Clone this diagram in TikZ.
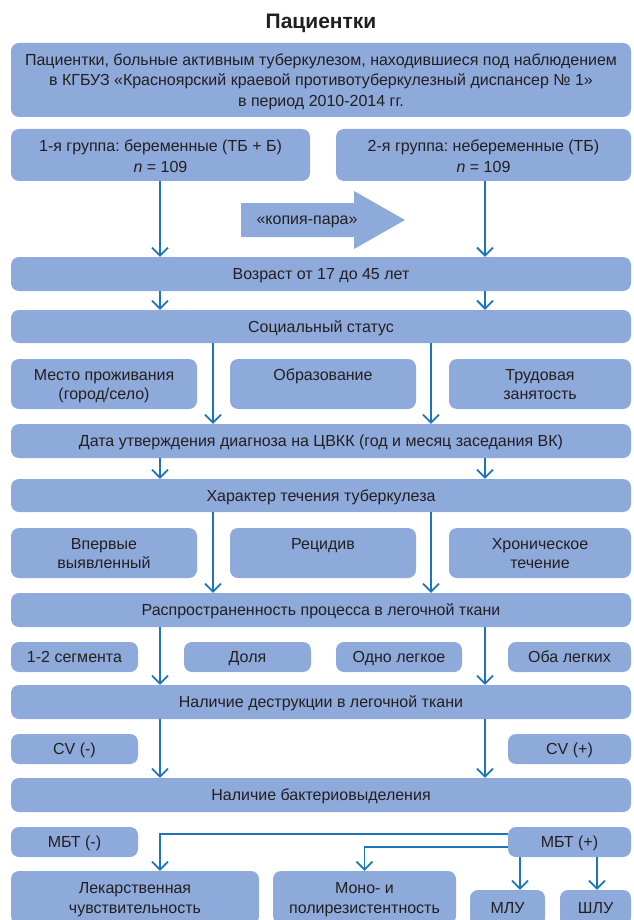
\documentclass[tikz,border=0pt]{standalone}
\usepackage{fontspec}
\setmainfont{Liberation Sans}
\usetikzlibrary{arrows.meta}
\definecolor{boxblue}{HTML}{8EAADB}
\definecolor{arrowblue}{HTML}{1C75BC}
\definecolor{txt}{HTML}{231F20}
\newcommand{\boxstrut}{\rule[-4pt]{0pt}{19.5pt}}
\frenchspacing
\begin{document}
\begin{tikzpicture}[x=1pt,y=-1pt,
  box/.style={rectangle,rounded corners=8pt,fill=boxblue,text=txt,align=flush center,inner sep=0pt,
    font=\fontsize{16}{19.5}\selectfont,execute at begin node=\boxstrut,execute at end node=\boxstrut},
  twoline/.style={text width=#1},
  twoline/.default=180pt,
  wide/.style={box,minimum width=620pt,minimum height=34pt},
  flow/.style={draw=arrowblue,line width=1.8pt,-{Straight Barb[length=8pt,width=16pt]}}]
\useasboundingbox (0,0) rectangle (633,920);
%Title
\node at (321,23) [text=txt,font=\fontsize{21}{24}\selectfont\bfseries] (Title) {Пациентки};
%Boxes
\node at (321,80) [box,twoline=610pt,font=\fontsize{16}{20.5}\selectfont,minimum width=620pt,minimum height=74pt] (Top) {Пациентки, больные активным туберкулезом, находившиеся под наблюдением\\в КГБУЗ «Красноярский краевой противотуберкулезный диспансер №~1»\\в период 2010-2014 гг.};
\node at (160.5,155) [box,twoline=290pt,font=\fontsize{16}{18}\selectfont,minimum width=299pt,minimum height=52pt] (GroupA) {\rule{0pt}{18pt}1-я группа: беременные (ТБ + Б)\\{\itshape n} = 109};
\node at (483.5,155) [box,twoline=285pt,font=\fontsize{16}{18}\selectfont,minimum width=295pt,minimum height=52pt] (GroupB) {\rule{0pt}{18pt}2-я группа: небеременные (ТБ)\\{\itshape n} = 109};
\fill[boxblue] (241,203) -- (354,203) -- (354,191) -- (405,220) -- (354,249) -- (354,237) -- (241,237) -- cycle;
\node at (307,222) [text=txt,font=\fontsize{16}{19.5}\selectfont] (Copy) {«копия-пара»};
\node at (321,274) [wide] (Age) {Возраст от 17 до 45 лет};
\node at (321,326.5) [wide,minimum height=33pt] (Social) {Социальный статус};
\node at (104,384) [box,twoline,minimum width=186pt,minimum height=50pt] (Place) {Место проживания\\(город/село)};
\node at (323,384) [box,twoline,minimum width=186pt,minimum height=50pt] (Edu) {Образование\\\mbox{}};
\node at (540,384) [box,twoline,minimum width=182pt,minimum height=50pt] (Work) {Трудовая\\занятость};
\node at (321,441) [wide] (Date) {Дата утверждения диагноза на ЦВКК (год и месяц заседания ВК)};
\node at (321,495.5) [wide,minimum height=33pt] (Course) {Характер течения туберкулеза};
\node at (104,553) [box,twoline,minimum width=186pt,minimum height=50pt] (First) {Впервые\\выявленный};
\node at (323,553) [box,twoline,minimum width=186pt,minimum height=50pt] (Relapse) {Рецидив\\\mbox{}};
\node at (540,553) [box,twoline,minimum width=182pt,minimum height=50pt] (Chronic) {Хроническое\\течение};
\node at (321,610) [wide] (Spread) {Распространенность процесса в легочной ткани};
\node at (74.5,657) [box,minimum width=127pt,minimum height=30pt] (Seg) {1-2 сегмента};
\node at (247.5,657) [box,minimum width=127pt,minimum height=30pt] (Lobe) {Доля};
\node at (399,657) [box,minimum width=126pt,minimum height=30pt] (OneLung) {Одно легкое};
\node at (569.5,657) [box,minimum width=123pt,minimum height=30pt] (BothLungs) {Оба легких};
\node at (321,702) [wide] (Destr) {Наличие деструкции в легочной ткани};
\node at (74.5,749) [box,minimum width=127pt,minimum height=30pt] (CvNeg) {CV (-)};
\node at (569.5,749) [box,minimum width=123pt,minimum height=30pt] (CvPos) {CV (+)};
\node at (321,795) [wide] (Bact) {Наличие бактериовыделения};
\node at (74.5,842) [box,minimum width=127pt,minimum height=30pt] (MbtNeg) {МБТ (-)};
\node at (569.5,842) [box,minimum width=123pt,minimum height=30pt] (MbtPos) {МБТ (+)};
\node at (135,897.5) [box,twoline=240pt,minimum width=248pt,minimum height=53pt] (Drug) {Лекарственная\\чувствительность};
\node at (364.5,897.5) [box,twoline,minimum width=183pt,minimum height=53pt] (Mono) {Моно- и\\полирезистентность};
\node at (507.5,908) [box,minimum width=75pt,minimum height=36pt] (Mlu) {МЛУ};
\node at (595.5,908) [box,minimum width=71pt,minimum height=36pt] (Shlu) {ШЛУ};
%Columns
\coordinate (ColL) at (160,0);
\coordinate (ColR) at (485,0);
\coordinate (ColA) at (213,0);
\coordinate (ColB) at (431,0);
\coordinate (ColM) at (520,0);
\coordinate (ColS) at (597,0);
%Arrows
\draw[flow] (GroupA.south -| ColL) -- (Age.north -| ColL);
\draw[flow] (GroupB.south -| ColR) -- (Age.north -| ColR);
\foreach \a/\b in {Age/Social,Date/Course,Spread/Destr,Destr/Bact}{
  \draw[flow] (\a.south -| ColL) -- (\b.north -| ColL);
  \draw[flow] (\a.south -| ColR) -- (\b.north -| ColR);
}
\foreach \a/\b in {Social/Date,Course/Spread}{
  \draw[flow] (\a.south -| ColA) -- (\b.north -| ColA);
  \draw[flow] (\a.south -| ColB) -- (\b.north -| ColB);
}
\draw[flow] ([yshift=-7pt]MbtPos.north west) -| (Drug.north -| ColL);
\draw[flow] ([yshift=-20pt]MbtPos.north west) -| (Mono.north);
\draw[flow] (MbtPos.south -| ColM) -- (Mlu.north -| ColM);
\draw[flow] (MbtPos.south -| ColS) -- (Shlu.north -| ColS);
\end{tikzpicture}
\end{document}
